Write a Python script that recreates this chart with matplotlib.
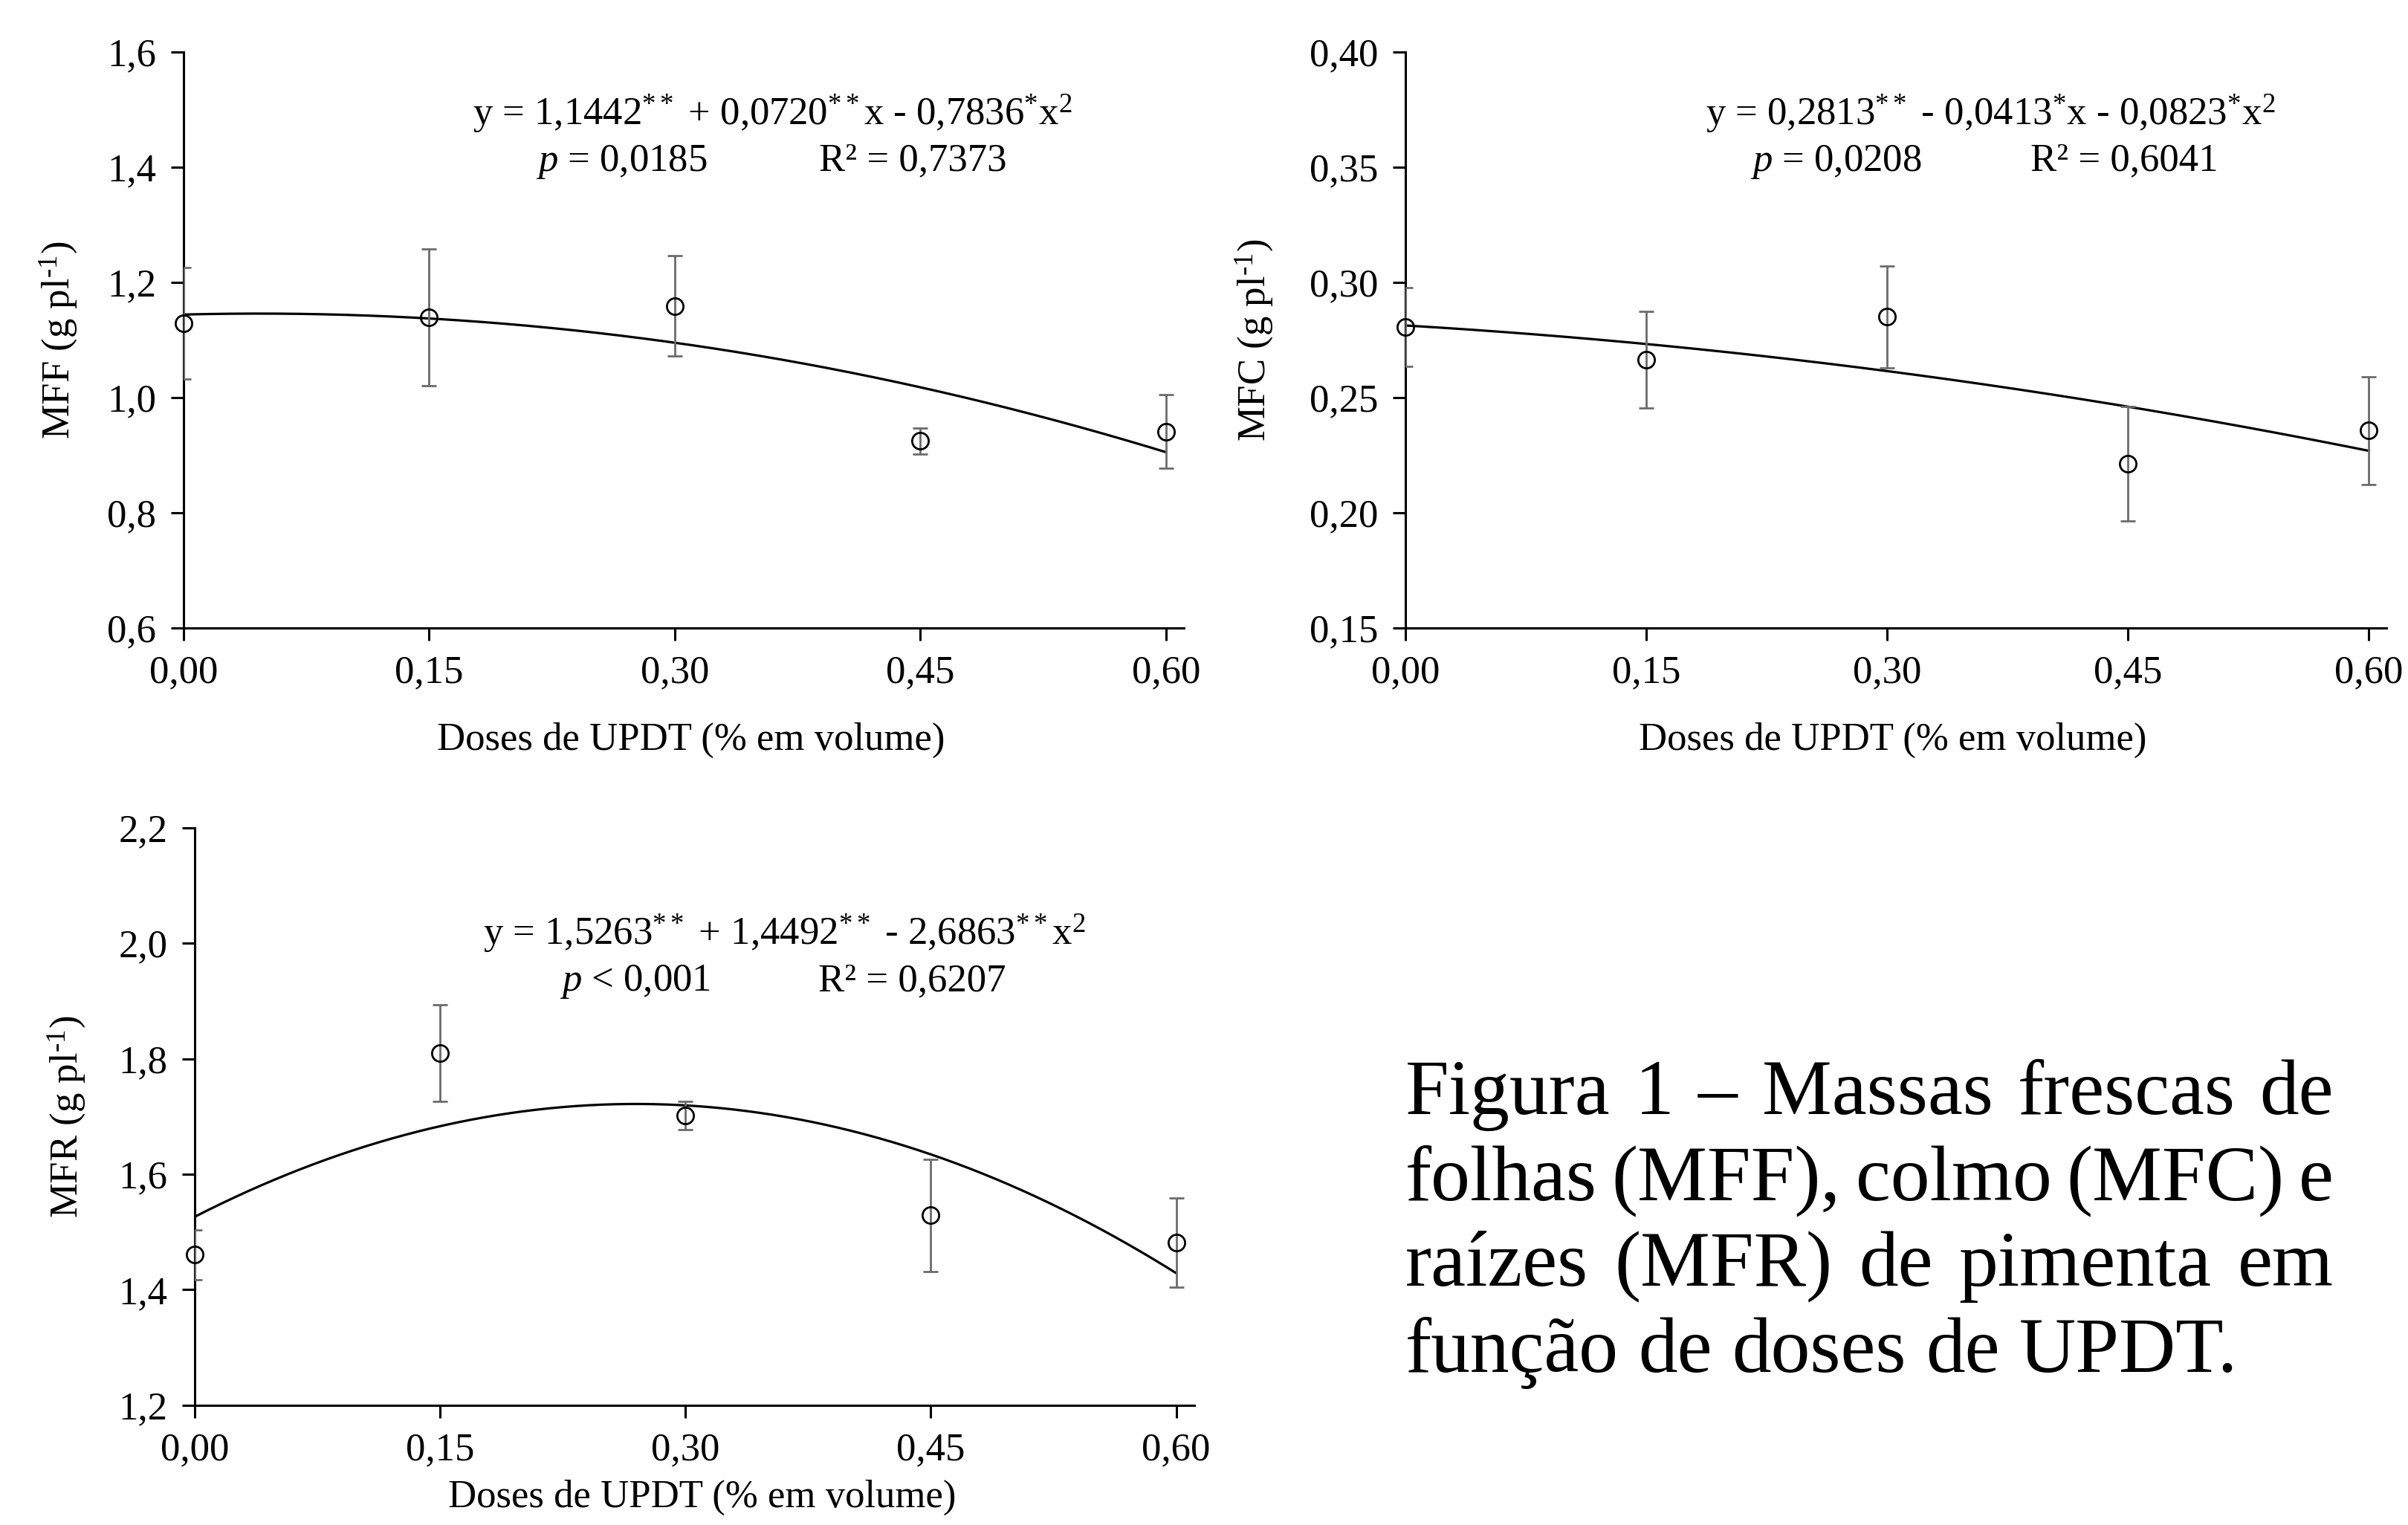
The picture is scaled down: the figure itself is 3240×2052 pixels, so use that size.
import matplotlib
matplotlib.use('Agg')
import matplotlib.pyplot as plt
import numpy as np

plt.rcParams['font.family'] = ['Liberation Serif', 'DejaVu Serif']
plt.rcParams['mathtext.fontset'] = 'custom'
plt.rcParams['mathtext.rm'] = 'Liberation Serif'
plt.rcParams['mathtext.it'] = 'Liberation Serif:italic'
plt.rcParams['mathtext.bf'] = 'Liberation Serif:bold'

# ---------------- data ----------------
doses = [0.00, 0.15, 0.30, 0.45, 0.60]
xtick_labels = ["0,00", "0,15", "0,30", "0,45", "0,60"]

mff = [1.129, 1.139, 1.159, 0.925, 0.941]
mff_err = [0.097, 0.119, 0.087, 0.0225, 0.064]
mff_coef = [1.1442, 0.0720, -0.7836]
mff_yticks = [0.6, 0.8, 1.0, 1.2, 1.4, 1.6]
mff_ylabels = ["0,6", "0,8", "1,0", "1,2", "1,4", "1,6"]

mfc = [0.2807, 0.2664, 0.2850, 0.2213, 0.2357]
mfc_err = [0.017, 0.021, 0.022, 0.0247, 0.0234]
mfc_coef = [0.2813, -0.0413, -0.0823]
mfc_yticks = [0.15, 0.20, 0.25, 0.30, 0.35, 0.40]
mfc_ylabels = ["0,15", "0,20", "0,25", "0,30", "0,35", "0,40"]

mfr = [1.461, 1.810, 1.702, 1.529, 1.482]
mfr_err = [0.043, 0.084, 0.0245, 0.097, 0.077]
mfr_coef = [1.5263, 1.4492, -2.6863]
mfr_yticks = [1.2, 1.4, 1.6, 1.8, 2.0, 2.2]
mfr_ylabels = ["1,2", "1,4", "1,6", "1,8", "2,0", "2,2"]

xlabel = "Doses de UPDT (% em volume)"

caption_lines = ["Figura 1 – Massas frescas de",
                 "folhas (MFF), colmo (MFC) e",
                 "raízes (MFR) de pimenta em",
                 "função de doses de UPDT."]

# ---------------- figure ----------------
W, H = 3241, 2052
DPI = 200
fig = plt.figure(figsize=(W / DPI, H / DPI), dpi=DPI)
fig.patch.set_facecolor('white')

FS = 19
ERR_COLOR = '#6b6b6b'


def panel(rect, y, err, coef, yticks, ylabels, ylabel, eq, ptxt, rtxt,
          eq_pos, p_pos, r_pos, ylab_x, xlab_pos):
    ax = fig.add_axes(rect)
    xs = np.linspace(doses[0], doses[-1], 300)
    ys = coef[0] + coef[1] * xs + coef[2] * xs ** 2
    ax.plot(xs, ys, color='black', lw=1.15, zorder=2)
    ax.errorbar(doses, y, yerr=err, fmt='none', ecolor=ERR_COLOR,
                elinewidth=1.0, capsize=3.6, capthick=1.0, zorder=3)
    ax.plot(doses, y, 'o', mfc='none', mec='black', ms=8, mew=1.0,
            clip_on=False, zorder=4)
    ax.set_xlim(0, 0.611)
    ax.set_ylim(yticks[0], yticks[-1])
    ax.set_xticks(doses)
    ax.set_xticklabels(xtick_labels)
    ax.set_yticks(yticks)
    ax.set_yticklabels(ylabels)
    for s in ['top', 'right']:
        ax.spines[s].set_visible(False)
    for s in ['left', 'bottom']:
        ax.spines[s].set_linewidth(1.1)
    ax.tick_params(direction='out', length=6.2, width=1.1, labelsize=FS,
                   pad=7, colors='black')
    ax.set_ylabel(ylabel, fontsize=FS)
    ax.yaxis.set_label_coords(ylab_x, 0.5)
    ax.set_xlabel(xlabel, fontsize=FS)
    ax.xaxis.set_label_coords(*xlab_pos)
    ax.text(eq_pos[0], eq_pos[1], eq, transform=ax.transAxes, ha='center',
            va='baseline', fontsize=FS)
    ax.text(p_pos[0], p_pos[1], ptxt, transform=ax.transAxes, ha='center',
            va='baseline', fontsize=FS)
    ax.text(r_pos[0], r_pos[1], rtxt, transform=ax.transAxes, ha='center',
            va='baseline', fontsize=FS)
    return ax


panel([0.0762, 0.5882, 0.4153, 0.3777], mff, mff_err, mff_coef,
      mff_yticks, mff_ylabels, r"MFF (g pl$^{\text{-1}}$)",
      r"$\text{y = 1,1442}^{**}\text{ + 0,0720}^{**}\text{x - 0,7836}^{*}\text{x}^{2}$",
      r"$\mathit{p}$ = 0,0185", "R² = 0,7373",
      (0.589, 0.873), (0.438, 0.794), (0.729, 0.794), -0.104, (0.507, -0.163))

panel([0.5835, 0.5882, 0.4073, 0.3777], mfc, mfc_err, mfc_coef,
      mfc_yticks, mfc_ylabels, r"MFC (g pl$^{\text{-1}}$)",
      r"$\text{y = 0,2813}^{**}\text{ - 0,0413}^{*}\text{x - 0,0823}^{*}\text{x}^{2}$",
      r"$\mathit{p}$ = 0,0208", "R² = 0,6041",
      (0.596, 0.873), (0.439, 0.794), (0.733, 0.794), -0.133, (0.497, -0.163))

panel([0.0808, 0.0785, 0.4150, 0.3787], mfr, mfr_err, mfr_coef,
      mfr_yticks, mfr_ylabels, r"MFR (g pl$^{\text{-1}}$)",
      r"$\text{y = 1,5263}^{**}\text{ + 1,4492}^{**}\text{ - 2,6863}^{**}\text{x}^{2}$",
      r"$\mathit{p}$ < 0,001", "R² = 0,6207",
      (0.590, 0.797), (0.441, 0.718), (0.718, 0.718), -0.107, (0.508, -0.128))

# ---------------- justified caption ----------------
CAP_FS = 38
cap_x0, cap_x1 = 1891, 3140
cap_baselines = [1499, 1615, 1730, 1846]
renderer = fig.canvas.get_renderer()


def text_w(s):
    t = fig.text(0, 0, s, fontsize=CAP_FS)
    w = t.get_window_extent(renderer).width
    t.remove()
    return w


space_w = text_w("a a") - text_w("aa")
for i, line in enumerate(caption_lines):
    words = line.split(' ')
    yb = 1 - cap_baselines[i] / H
    texts = [fig.text(0, yb, w, fontsize=CAP_FS, va='baseline', ha='left')
             for w in words]
    widths = [t.get_window_extent(renderer).width for t in texts]
    if i < len(caption_lines) - 1:
        gap = ((cap_x1 - cap_x0) - sum(widths)) / (len(words) - 1)
    else:
        gap = space_w
    x = cap_x0
    for t, w in zip(texts, widths):
        t.set_x(x / W)
        x += w + gap

fig.savefig('out.png', dpi=DPI, facecolor='white')
